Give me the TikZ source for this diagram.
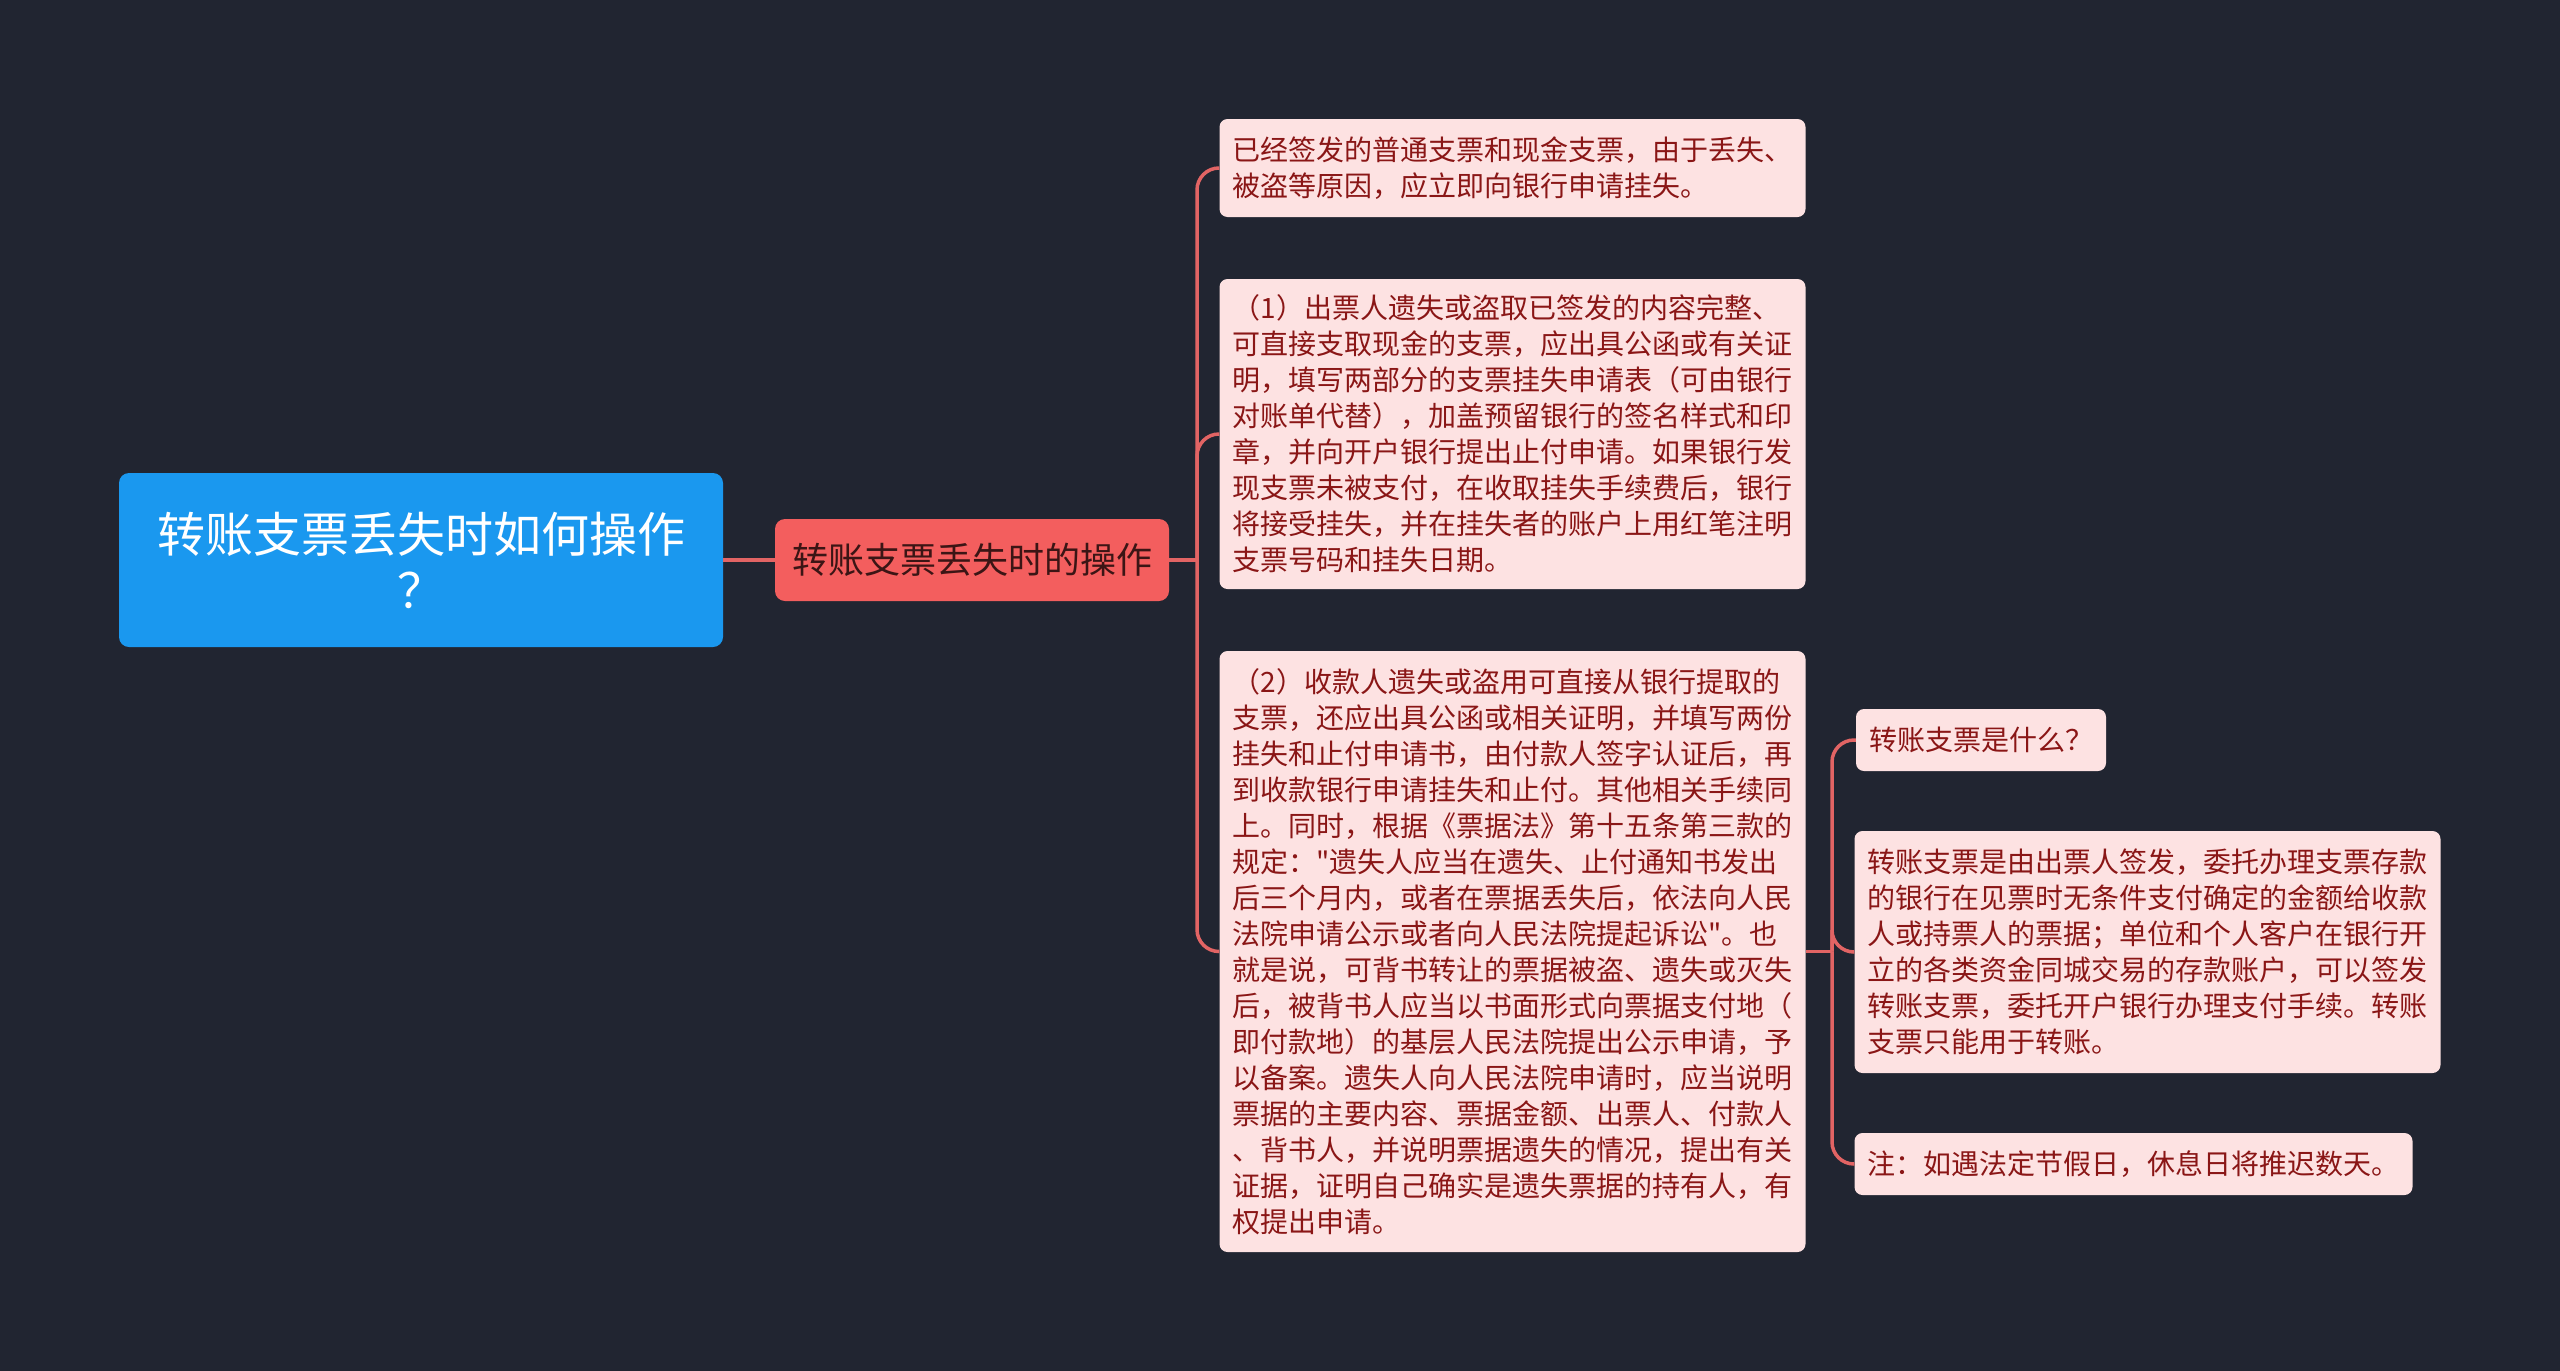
\documentclass[tikz,border=0pt]{standalone}
\usepackage{fontspec}
\newfontfamily\cjkf{Noto Sans CJK SC}
\definecolor{bgc}{HTML}{212531}
\definecolor{rootc}{HTML}{1A98EF}
\definecolor{subjc}{HTML}{F35E5E}
\definecolor{subjtext}{HTML}{3B1515}
\definecolor{leaffill}{HTML}{FDE2E2}
\definecolor{leaftext}{HTML}{8A1616}
\definecolor{linec}{HTML}{E26464}
\begin{document}
\begin{tikzpicture}[x=1pt,y=-1pt,
  rootbox/.style={fill=rootc, text=white, rounded corners=10pt, align=center,
    inner sep=0pt, font=\cjkf\fontsize{48}{56}\selectfont},
  subjbox/.style={fill=subjc, text=subjtext, rounded corners=10pt, align=center,
    inner sep=0pt, font=\cjkf\fontsize{36}{42}\selectfont},
  leaf/.style={fill=leaffill, text=leaftext, rounded corners=8pt, align=left,
    inner xsep=13pt, inner ysep=0pt, font=\cjkf\fontsize{28}{36}\selectfont},
  conn/.style={draw=linec, line width=3.5pt, rounded corners=22pt}]
\fill[bgc] (0,0) rectangle (2560,1371);
\useasboundingbox (0,0) rectangle (2560,1371);

\node[rootbox, minimum width=604pt, minimum height=174pt] (root) at (421,560)
  {转账支票丢失时如何操作\\？};
\node[subjbox, minimum width=394pt, minimum height=82pt] (subj) at (972,560)
  {转账支票丢失时的操作};

\node[leaf, minimum width=583pt, minimum height=98pt] (b1) at (1512.5,168)
  {已经签发的普通支票和现金支票，由于丢失、\\被盗等原因，应立即向银行申请挂失。};
\node[leaf, minimum width=583pt, minimum height=310pt] (b2) at (1512.5,434)
  {（1）出票人遗失或盗取已签发的内容完整、\\%
可直接支取现金的支票，应出具公函或有关证\\%
明，填写两部分的支票挂失申请表（可由银行\\%
对账单代替），加盖预留银行的签名样式和印\\%
章，并向开户银行提出止付申请。如果银行发\\%
现支票未被支付，在收取挂失手续费后，银行\\%
将接受挂失，并在挂失者的账户上用红笔注明\\%
支票号码和挂失日期。};
\node[leaf, minimum width=583pt, minimum height=601pt] (b3) at (1512.5,951.5)
  {（2）收款人遗失或盗用可直接从银行提取的\\%
支票，还应出具公函或相关证明，并填写两份\\%
挂失和止付申请书，由付款人签字认证后，再\\%
到收款银行申请挂失和止付。其他相关手续同\\%
上。同时，根据《票据法》第十五条第三款的\\%
规定："遗失人应当在遗失、止付通知书发出\\%
后三个月内，或者在票据丢失后，依法向人民\\%
法院申请公示或者向人民法院提起诉讼"。也\\%
就是说，可背书转让的票据被盗、遗失或灭失\\%
后，被背书人应当以书面形式向票据支付地（\\%
即付款地）的基层人民法院提出公示申请，予\\%
以备案。遗失人向人民法院申请时，应当说明\\%
票据的主要内容、票据金额、出票人、付款人\\%
、背书人，并说明票据遗失的情况，提出有关\\%
证据，证明自己确实是遗失票据的持有人，有\\%
权提出申请。};

\node[leaf, minimum width=250pt, minimum height=62pt] (b4) at (1981,740)
  {转账支票是什么？};
\node[leaf, minimum width=583pt, minimum height=242pt] (b5) at (2147.5,952)
  {转账支票是由出票人签发，委托办理支票存款\\%
的银行在见票时无条件支付确定的金额给收款\\%
人或持票人的票据；单位和个人客户在银行开\\%
立的各类资金同城交易的存款账户，可以签发\\%
转账支票，委托开户银行办理支付手续。转账\\%
支票只能用于转账。};
\node[leaf, minimum width=555pt, minimum height=62pt] (b6) at (2133.5,1164)
  {注：如遇法定节假日，休息日将推迟数天。};

\coordinate (j1) at (1197,560);
\coordinate (j2) at (1832,951.5);
\draw[conn] (root.east) -- (subj.west);
\draw[conn] (subj.east) -- (j1);
\draw[conn] (j1) |- (b1.west);
\draw[conn] (j1) |- (b2.west);
\draw[conn] (j1) |- (b3.west);
\draw[conn] (b3.east) -- (j2);
\draw[conn] (j2) |- (b4.west);
\draw[conn] (j2) |- (b5.west);
\draw[conn] (j2) |- (b6.west);
\end{tikzpicture}
\end{document}
